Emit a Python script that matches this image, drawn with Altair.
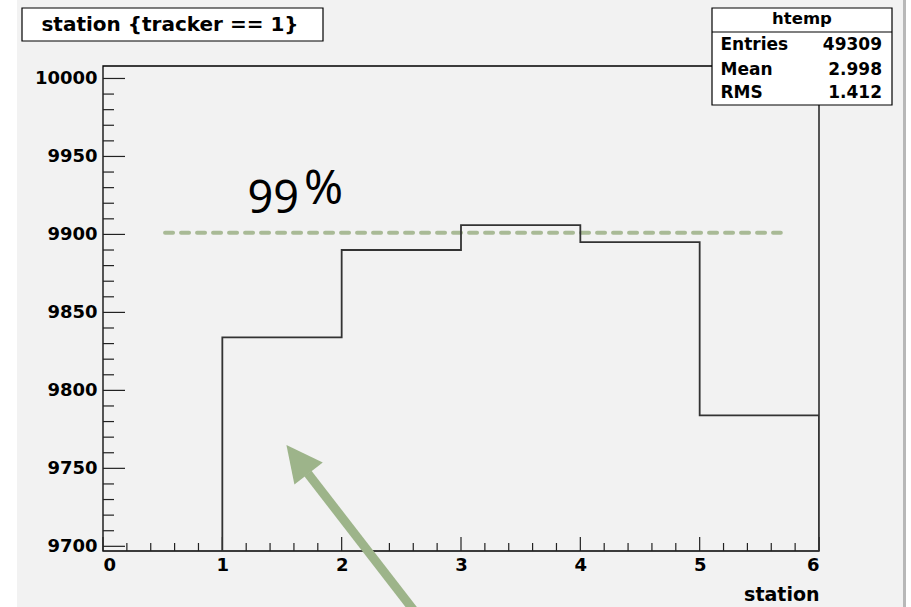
import math
import altair as alt
import pandas as pd

# Histogram of station numbers for tracker == 1 (bin lower edges and contents).
# The last point closes the outline at the upper edge of the final bin.
station_edges = [0, 1, 2, 3, 4, 5, 6]
counts = [0, 9834, 9890, 9906, 9895, 9784, 0]

# Axis tick labels
y_major = [9700, 9750, 9800, 9850, 9900, 9950, 10000]
x_major = [0, 1, 2, 3, 4, 5, 6]
y_minor = [v for v in range(9700, 10001, 10) if v % 50]
x_minor = [i / 5 for i in range(0, 31) if i % 5]

# Reference level and its label
ref_level = 9901
ref_span = [0.52, 5.68]
ref_number = "99"
ref_sign = "%"

# Arrow annotation (tail -> head, in data units)
arrow_tail = [2.647, 9654.7]
arrow_base = [1.717, 9746.7]
arrow_head = [1.630, 9755.8]

title_text = "station {tracker == 1}"
x_title = "station"

# Statistics box computed from the bin contents (station value = bin lower edge)
entries = sum(counts)
mean = sum(s * c for s, c in zip(station_edges, counts)) / entries
rms = math.sqrt(sum(s * s * c for s, c in zip(station_edges, counts)) / entries - mean ** 2)
stat_names = ["Entries", "Mean", "RMS"]
stat_values = [f"{entries}", f"{mean:.3f}", f"{rms:.3f}"]

W, H = 716, 485
FONT = "DejaVu Sans"
xscale = alt.Scale(domain=[0, 6], nice=False, zero=False)
yscale = alt.Scale(domain=[9697, 10008], nice=False, zero=False)

# One shared axis definition per channel so the layered axes merge cleanly
xaxis = alt.Axis(values=x_major, ticks=False, domain=False, grid=False, format="d",
                 labelFont=FONT, labelFontWeight="bold", labelFontSize=18, labelColor="black",
                 labelPadding=5, title=x_title, titleFont=FONT, titleFontWeight="bold",
                 titleFontSize=19, titleColor="black", titleX=W, titleY=49,
                 titleAlign="right", titleBaseline="alphabetic", zindex=1)
yaxis = alt.Axis(values=y_major, ticks=False, domain=False, grid=False, format="d",
                 labelFont=FONT, labelFontWeight="bold", labelFontSize=18, labelColor="black",
                 labelPadding=6, title="", zindex=1)


def X(field):
    return alt.X(field, scale=xscale, axis=xaxis, title=x_title)


def Y(field):
    return alt.Y(field, scale=yscale, axis=yaxis, title="")


one = pd.DataFrame({"k": [0]})
hist = pd.DataFrame({"station": station_edges, "count": counts})

# page edges
edges = alt.layer(
    alt.Chart(one).mark_rect(color="white").encode(
        x=alt.value(-103), x2=alt.value(-86), y=alt.value(-66), y2=alt.value(H + 56)),
    alt.Chart(one).mark_rect(color="#b8b8b8").encode(
        x=alt.value(800), x2=alt.value(803), y=alt.value(-66), y2=alt.value(H + 56)),
    alt.Chart(one).mark_rect(color="white").encode(
        x=alt.value(803), x2=alt.value(820), y=alt.value(-66), y2=alt.value(H + 56)),
)

frame = alt.Chart(one).mark_rect(fill=None, stroke="black", strokeWidth=1.3).encode(
    x=alt.value(0), x2=alt.value(W), y=alt.value(0), y2=alt.value(H))

tick_style = dict(color="#222", strokeWidth=1.2)
ticks = alt.layer(
    alt.Chart(pd.DataFrame({"v": y_major})).mark_rule(**tick_style).encode(
        y=Y("v:Q"), x=alt.value(0), x2=alt.value(22)),
    alt.Chart(pd.DataFrame({"v": y_minor})).mark_rule(**tick_style).encode(
        y=Y("v:Q"), x=alt.value(0), x2=alt.value(11)),
    alt.Chart(pd.DataFrame({"v": x_major})).mark_rule(**tick_style).encode(
        x=X("v:Q"), y=alt.value(H), y2=alt.value(H - 14)),
    alt.Chart(pd.DataFrame({"v": x_minor})).mark_rule(**tick_style).encode(
        x=X("v:Q"), y=alt.value(H), y2=alt.value(H - 8)),
)

ref_line = alt.Chart(pd.DataFrame({"x0": [ref_span[0]], "x1": [ref_span[1]], "y": [ref_level]})).mark_rule(
    color="#a9ba96", strokeWidth=4, strokeDash=[8, 8], strokeCap="round").encode(
    x=X("x0:Q"), x2="x1:Q", y=Y("y:Q"))

line = alt.Chart(hist).mark_line(interpolate="step-after", color="#333", strokeWidth=1.8, clip=True).encode(
    x=X("station:Q"), y=Y("count:Q"))

arrow_color = "#9db48a"
shaft = alt.Chart(pd.DataFrame({"x0": [arrow_tail[0]], "y0": [arrow_tail[1]],
                                "x1": [arrow_base[0]], "y1": [arrow_base[1]]})).mark_rule(
    color=arrow_color, strokeWidth=9, clip=False).encode(
    x=X("x0:Q"), x2="x1:Q", y=Y("y0:Q"), y2="y1:Q")
head = alt.Chart(pd.DataFrame({"x": [arrow_head[0]], "y": [arrow_head[1]]})).mark_point(
    shape="M0,-1L1,1L-1,1Z", filled=True, size=1296, angle=322, opacity=1,
    color=arrow_color, strokeWidth=0, clip=False).encode(
    x=X("x:Q"), y=Y("y:Q"))

label99 = alt.layer(
    alt.Chart(one).mark_text(text=ref_number, font="Noto Sans", fontSize=45, align="left",
                             baseline="alphabetic", color="black").encode(
        x=alt.value(144.5), y=alt.value(147)),
    alt.Chart(one).mark_text(text=ref_sign, font="Noto Sans", fontSize=47, align="left",
                             baseline="alphabetic", color="black").encode(
        x=alt.value(201), y=alt.value(138)),
)

title_box = alt.layer(
    alt.Chart(one).mark_rect(fill="white", stroke="black", strokeWidth=1.2).encode(
        x=alt.value(-81), x2=alt.value(220), y=alt.value(-58), y2=alt.value(-25)),
    alt.Chart(one).mark_text(text=title_text, font=FONT, fontWeight="bold", fontSize=20,
                             align="center", baseline="middle", color="black").encode(
        x=alt.value(67), y=alt.value(-41.5)),
)

stat_layers = [
    alt.Chart(one).mark_rect(fill="white", stroke="black", strokeWidth=1.2).encode(
        x=alt.value(609), x2=alt.value(789), y=alt.value(-58), y2=alt.value(39)),
    alt.Chart(one).mark_rule(color="black", strokeWidth=1.2).encode(
        x=alt.value(609), x2=alt.value(789), y=alt.value(-34)),
    alt.Chart(one).mark_text(text="htemp", font=FONT, fontWeight="bold", fontSize=16.5,
                             align="center", baseline="middle", color="black").encode(
        x=alt.value(699), y=alt.value(-47)),
]
for name, val, ypos in zip(stat_names, stat_values, [-21, 4, 26.5]):
    stat_layers.append(alt.Chart(one).mark_text(
        text=name, font=FONT, fontWeight="bold", fontSize=17, align="left",
        baseline="middle", color="black").encode(x=alt.value(617.5), y=alt.value(ypos)))
    stat_layers.append(alt.Chart(one).mark_text(
        text=val, font=FONT, fontWeight="bold", fontSize=17, align="right",
        baseline="middle", color="black").encode(x=alt.value(779), y=alt.value(ypos)))
stats_box = alt.layer(*stat_layers)

chart = alt.layer(
    edges, frame, ticks, ref_line, line, shaft, head, label99, title_box, stats_box
).properties(
    width=W, height=H,
    padding={"left": 103, "top": 66, "right": 92, "bottom": 56},
    autosize=alt.AutoSizeParams(type="none"),
    background="#f2f2f2",
).configure_view(strokeWidth=0)

chart.save("out.html", embed_options={"renderer": "svg", "actions": False})
